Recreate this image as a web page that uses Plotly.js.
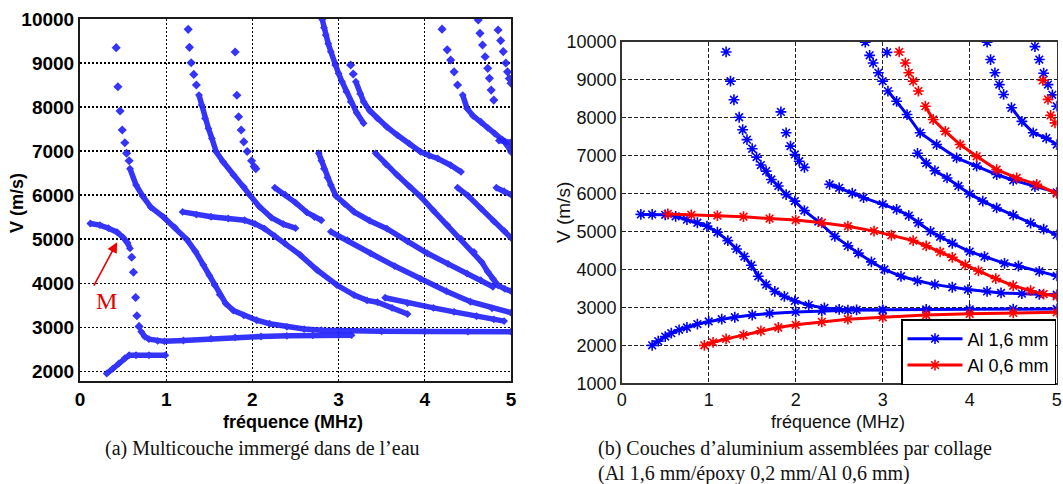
<!DOCTYPE html>
<html>
<head>
<meta charset="utf-8">
<script src="https://cdn.plot.ly/plotly-3.0.1.min.js"></script>
<style>html,body{margin:0;padding:0;background:#fff;}#chart{width:1063px;height:484px;}</style>
</head>
<body>
<div id="chart"></div>
<script>
// ---------- (a) Multicouche immergé dans de l'eau ----------
// band = dense curves, dots = sparse diamond markers
const a_A_f = [0.31,0.38,0.45,0.52,0.57,0.65,0.80,0.99];
const a_A_v = [1950,2060,2180,2300,2365,2365,2365,2365];
const a_B1_f = [0.12,0.23,0.33,0.43,0.50,0.55,0.58];
const a_B1_v = [5356,5320,5250,5160,5040,4920,4790];
const a_Bd_f = [0.60,0.62,0.645,0.66,0.685];
const a_Bd_v = [4590,4250,3675,3260,3020];
const a_B2_f = [0.71,0.75,0.80,0.90,0.98,1.2,1.52,1.8,2.1,2.4,2.7,3.0,3.15];
const a_B2_v = [2900,2790,2730,2690,2680,2700,2740,2770,2790,2805,2815,2820,2820];
const a_C1_f = [0.42,0.44,0.465,0.49,0.52,0.54,0.57];
const a_C1_v = [9350,8460,7910,7480,7190,6950,6780];
const a_C2_f = [0.58,0.65,0.73,0.82,0.97,1.1,1.24,1.34,1.43,1.5,1.56,1.62,1.69,1.78,1.9,2.05,2.2,2.4,2.6,2.8,3.0,3.5,4.0,4.5,5.0];
const a_C2_v = [6600,6230,5970,5730,5500,5270,4990,4720,4420,4180,3960,3740,3540,3380,3270,3160,3080,3010,2960,2935,2920,2910,2905,2900,2900];
const a_D1_f = [1.255,1.27,1.29,1.32,1.35];
const a_D1_v = [9765,9356,9008,8742,8500];
const a_D2_f = [1.38,1.41,1.45,1.49,1.53,1.58,1.66,1.78,1.90,1.97,2.08,2.22,2.36,2.5];
const a_D2_v = [8273,8045,7742,7515,7288,6985,6757,6455,6189,6000,5740,5490,5340,5250];
const a_E_f = [2.26,2.38,2.5,2.63,2.72,2.8];
const a_E_v = [6170,6010,5830,5610,5500,5430];
const a_F_f = [1.19,1.35,1.52,1.72,1.91,2.03,2.14,2.26,2.38,2.55,2.75,2.98,3.18,3.33,3.45,3.62,3.80];
const a_F_v = [5620,5560,5510,5470,5430,5350,5240,5070,4900,4650,4300,3960,3730,3610,3570,3440,3300];
const a_G_f = [3.54,3.8,4.1,4.34,4.6,4.8,4.92];
const a_G_v = [3670,3550,3440,3350,3250,3180,3140];
const a_H_f = [2.91,3.1,3.37,3.65,3.95,4.25,4.53,4.78,5.0];
const a_H_v = [5170,4980,4680,4390,4100,3820,3580,3430,3330];
const a_I_f = [2.77,2.8,2.83,2.87,2.91,2.97,3.07,3.18,3.36,3.56,3.8,4.03,4.27,4.49,4.65,4.79];
const a_I_v = [6950,6780,6600,6400,6230,5980,5800,5620,5420,5240,4950,4680,4440,4220,4070,3920];
const a_J_f = [3.43,3.55,3.68,3.82,3.95,4.1,4.26,4.42,4.57,4.66,4.73,4.79,4.85,4.93,5.0];
const a_J_v = [6950,6700,6455,6200,5970,5650,5320,5010,4710,4480,4260,4100,3950,3870,3820];
const a_K_f = [4.38,4.5,4.65,4.8,4.92,5.0];
const a_K_v = [6170,5990,5700,5410,5190,5030];
const a_L_f = [4.83,4.92,5.0];
const a_L_v = [6170,6090,6010];
const a_M1_f = [3.14,3.17];
const a_M1_v = [8955,8750];
const a_M2_f = [3.2,3.25,3.29,3.36,3.45,3.56,3.68,3.82,3.95,4.05,4.15,4.3,4.42];
const a_M2_v = [8576,8300,8121,7920,7742,7550,7364,7170,6985,6900,6833,6680,6530];
const a_N_f = [2.81,2.83,2.85,2.88,2.91,2.96,3.0,3.04,3.09,3.14,3.21,3.29];
const a_N_v = [9990,9800,9636,9440,9258,8955,8760,8576,8350,8121,7870,7630];
const a_O1_f = [4.2,4.26,4.3,4.34,4.38];
const a_O1_v = [9770,9300,9070,8800,8500];
const a_O2_f = [4.44,4.49,4.56,4.65,4.73,4.81,4.9,4.96,5.0];
const a_O2_v = [8273,7970,7800,7667,7530,7400,7260,7120,6980];
const a_P_f = [4.86,4.93,5.0];
const a_P_v = [7240,7220,7200];
const a_Q_f = [4.62,4.64,4.67,4.70,4.73,4.75,4.77,4.80];
const a_Q_v = [9977,9674,9409,9144,8879,8652,8386,8159];
const a_R_f = [4.85,4.88,4.91,4.94,4.96,4.98,5.0];
const a_R_v = [9750,9510,9260,9000,8800,8650,8540];
const a_S_f = [1.80,1.82,1.84,1.87,1.90,1.94,1.99,2.02,2.04];
const a_S_v = [9250,8270,7780,7480,7210,6990,6780,6650,6600];

// ---------- (b) Al 1,6 mm / époxy 0,2 mm / Al 0,6 mm ----------
const b1_f = [0.35,0.42,0.5,0.57,0.66,0.75,0.87,1.0,1.15,1.3,1.5,1.7,2.0,2.3,2.6,3.0,3.5,4.0,4.5,5.0];
const b1_v = [2000,2110,2230,2320,2410,2470,2560,2630,2690,2740,2800,2840,2880,2910,2925,2935,2945,2950,2955,2960];
const b2_f = [0.22,0.35,0.5,0.62,0.75,0.87,0.98,1.1,1.22,1.32,1.41,1.49,1.57,1.66,1.76,1.87,1.99,2.15,2.33,2.5,2.7,3.0];
const b2_v = [5450,5450,5440,5400,5310,5230,5140,4980,4760,4540,4340,4110,3820,3600,3420,3290,3170,3060,2985,2950,2935,2930];
const b3s_f = [1.2,1.25,1.29,1.35,1.39,1.44,1.5,1.55];
const b3s_v = [9730,8960,8470,8010,7680,7420,7180,6960];
const b3d_f = [1.6,1.66,1.72,1.8,1.89,1.99,2.1,2.26,2.45,2.6,2.72,2.87,3.02,3.21,3.4,3.6,3.8,3.98,4.2,4.36,4.6,4.8,5.0];
const b3d_v = [6750,6590,6370,6200,5970,5800,5550,5260,4870,4620,4430,4200,4000,3820,3700,3600,3530,3470,3420,3380,3360,3345,3334];
const b4_f = [1.83,1.89,1.94,1.99,2.04,2.1];
const b4_v = [8150,7600,7250,7030,6850,6690];
const b5_f = [2.39,2.5,2.65,2.78,3.0,3.16,3.3,3.41,3.55,3.66,3.8,4.0,4.17,4.4,4.56,4.8,5.0];
const b5_v = [6240,6150,6010,5890,5720,5580,5420,5230,5000,4860,4690,4470,4340,4160,4090,3950,3830];
const b6_f = [3.4,3.5,3.6,3.74,3.87,4.0,4.15,4.31,4.5,4.7,4.85,5.0];
const b6_v = [7060,6800,6600,6410,6200,5990,5800,5620,5430,5220,5060,4910];
const b7s_f = [2.8,2.85,2.89,2.95,3.0];
const b7s_v = [9990,9640,9440,9180,8960];
const b7d_f = [3.06,3.16,3.28,3.43,3.62,3.85,4.08,4.31,4.5,4.75,5.0];
const b7d_v = [8700,8430,8080,7600,7290,6940,6720,6500,6350,6180,6030];
const b8_f = [3.05];
const b8_v = [9720];
const b9s_f = [4.2,4.24,4.29,4.34,4.39];
const b9s_v = [9990,9530,9180,8870,8610];
const b9d_f = [4.48,4.6,4.73,4.88,5.0];
const b9d_v = [8260,7900,7600,7460,7290];
const b10_f = [4.75,4.8,4.85,4.9,4.95,5.0];
const b10_v = [9870,9530,9170,8870,8600,8300];
const r1_f = [0.95,1.05,1.2,1.4,1.6,1.8,2.0,2.3,2.6,3.0,3.5,4.0,4.5,5.0];
const r1_v = [2000,2080,2170,2270,2380,2470,2540,2620,2690,2740,2800,2830,2855,2870];
const r2_f = [0.53,0.8,1.1,1.4,1.7,2.0,2.3,2.6,2.9,3.1,3.35,3.5,3.66,3.8,3.95,4.1,4.3,4.5,4.7,4.85,5.0];
const r2_v = [5460,5440,5420,5390,5340,5300,5230,5140,5010,4900,4760,4620,4460,4320,4120,3960,3760,3570,3440,3350,3290];
const r3s_f = [3.19,3.26,3.3,3.35,3.41];
const r3s_v = [9730,9440,9180,8960,8700];
const r3d_f = [3.49,3.58,3.72,3.89,4.08,4.31,4.54,4.77,5.0];
const r3d_v = [8300,7950,7640,7290,6980,6630,6410,6240,6000];
const r4_f = [4.84,4.9,4.93,4.98];
const r4_v = [8980,8480,8060,7860];

const xTicks = [0,1,2,3,4,5];
const yTicksA = [2000,3000,4000,5000,6000,7000,8000,9000,10000];
const yTicksB = [1000,2000,3000,4000,5000,6000,7000,8000,9000,10000];
const legendNames = ['Al 1,6 mm','Al 0,6 mm'];

const BLUE_A = 'rgb(35,35,250)';
const BLUE = 'rgb(0,0,255)';
const RED = 'rgb(255,0,0)';

const traces = [];
function aBand(f, v){
  traces.push({type:'scatter', mode:'lines+markers', x:f, y:v, xaxis:'x', yaxis:'y',
    line:{color:BLUE_A, width:5.5}, marker:{symbol:'diamond', size:6, color:BLUE_A},
    showlegend:false, hoverinfo:'skip', opacity:0.92});
}
function aDots(f, v){
  traces.push({type:'scatter', mode:'markers', x:f, y:v, xaxis:'x', yaxis:'y',
    marker:{symbol:'diamond', size:7, color:BLUE_A},
    showlegend:false, hoverinfo:'skip', opacity:0.92});
}
function bDense(f, v, c, name){
  traces.push({type:'scatter', mode:'lines+markers', x:f, y:v, xaxis:'x2', yaxis:'y2',
    name: name || '', showlegend: !!name, legendgroup: c,
    line:{color:c, width:3}, marker:{symbol:'asterisk-open', size:9, color:c, line:{color:c, width:1.6}},
    hoverinfo:'skip'});
}
function bSparse(f, v, c){
  traces.push({type:'scatter', mode:'markers', x:f, y:v, xaxis:'x2', yaxis:'y2',
    showlegend:false, legendgroup:c,
    marker:{symbol:'asterisk-open', size:9, color:c, line:{color:c, width:1.6}},
    hoverinfo:'skip'});
}

[[a_A_f,a_A_v],[a_B1_f,a_B1_v],[a_B2_f,a_B2_v],[a_C2_f,a_C2_v],[a_D2_f,a_D2_v],[a_E_f,a_E_v],
 [a_F_f,a_F_v],[a_G_f,a_G_v],[a_H_f,a_H_v],[a_I_f,a_I_v],[a_J_f,a_J_v],[a_K_f,a_K_v],[a_L_f,a_L_v],
 [a_M2_f,a_M2_v],[a_N_f,a_N_v],[a_O2_f,a_O2_v],[a_P_f,a_P_v]].forEach(p=>aBand(p[0],p[1]));
[[a_Bd_f,a_Bd_v],[a_C1_f,a_C1_v],[a_D1_f,a_D1_v],[a_M1_f,a_M1_v],[a_O1_f,a_O1_v],
 [a_Q_f,a_Q_v],[a_R_f,a_R_v],[a_S_f,a_S_v]].forEach(p=>aDots(p[0],p[1]));

bDense(b1_f,b1_v,BLUE,legendNames[0]);
bDense(r1_f,r1_v,RED,legendNames[1]);
[[b2_f,b2_v],[b3d_f,b3d_v],[b5_f,b5_v],[b6_f,b6_v],[b7d_f,b7d_v],[b9d_f,b9d_v]].forEach(p=>bDense(p[0],p[1],BLUE));
[[b3s_f,b3s_v],[b4_f,b4_v],[b7s_f,b7s_v],[b8_f,b8_v],[b9s_f,b9s_v],[b10_f,b10_v]].forEach(p=>bSparse(p[0],p[1],BLUE));
[[r2_f,r2_v],[r3d_f,r3d_v]].forEach(p=>bDense(p[0],p[1],RED));
[[r3s_f,r3s_v],[r4_f,r4_v]].forEach(p=>bSparse(p[0],p[1],RED));

const W = 1063, H = 484;
const px = v => v / W;
const py = v => 1 - v / H;
const SANS = 'Liberation Sans, Arial, sans-serif';
const SERIF = 'Liberation Serif, Times New Roman, serif';

const axA = {showgrid:true, gridcolor:'#000', griddash:'2px,2px', gridwidth:1.4, zeroline:false,
  showline:true, mirror:true, linecolor:'#1a1a1a', linewidth:2, ticks:'', tickformat:'d',
  tickfont:{family:SANS, size:19, color:'#000', weight:'bold'}};
const axB = {showgrid:true, gridcolor:'#222', griddash:'4px,2px', gridwidth:1, zeroline:false,
  showline:true, mirror:true, linecolor:'#333', linewidth:1.5, ticks:'', tickformat:'d',
  tickfont:{family:SANS, size:18, color:'#111'}};

const layout = {
  width:W, height:H, margin:{l:0,r:0,t:0,b:0},
  paper_bgcolor:'#fff', plot_bgcolor:'#fff',
  showlegend:true,
  xaxis: Object.assign({}, axA, {domain:[px(80),px(511)], range:[0,5], tickvals:xTicks, anchor:'y'}),
  yaxis: Object.assign({}, axA, {domain:[py(381),py(19)], range:[1780,10000], tickvals:yTicksA, anchor:'x'}),
  xaxis2: Object.assign({}, axB, {domain:[px(621.7),px(1056.7)], range:[0,5], tickvals:xTicks, anchor:'y2'}),
  yaxis2: Object.assign({}, axB, {domain:[py(383.3),py(41.7)], range:[1000,10000], tickvals:yTicksB, anchor:'x2'}),
  legend:{x:px(1056), xanchor:'right', y:py(385), yanchor:'bottom', bgcolor:'#fff',
    bordercolor:'#000', borderwidth:1.5, font:{family:SANS, size:18, color:'#000'},
    itemwidth:55, tracegroupgap:0},
  annotations:[
    {xref:'paper', yref:'paper', x:px(293), y:py(422), text:'fréquence (MHz)', showarrow:false,
     xanchor:'center', yanchor:'middle', font:{family:SANS, size:18, color:'#000', weight:'bold'}},
    {xref:'paper', yref:'paper', x:px(17), y:py(203), text:'V (m/s)', showarrow:false, textangle:-90,
     xanchor:'center', yanchor:'middle', font:{family:SANS, size:18, color:'#000', weight:'bold'}},
    {xref:'paper', yref:'paper', x:px(838), y:py(422), text:'fréquence (MHz)', showarrow:false,
     xanchor:'center', yanchor:'middle', font:{family:SANS, size:18, color:'#111'}},
    {xref:'paper', yref:'paper', x:px(563), y:py(213), text:'V (m/s)', showarrow:false, textangle:-90,
     xanchor:'center', yanchor:'middle', font:{family:SANS, size:19, color:'#111'}},
    {xref:'paper', yref:'paper', x:px(262), y:py(448), text:'(a) Multicouche immergé dans de l’eau', showarrow:false,
     xanchor:'center', yanchor:'middle', font:{family:SERIF, size:20, color:'#111'}},
    {xref:'paper', yref:'paper', x:px(596), y:py(448), text:'(b) Couches d’aluminium assemblées par collage', showarrow:false,
     xanchor:'left', yanchor:'middle', font:{family:SERIF, size:20, color:'#111'}},
    {xref:'paper', yref:'paper', x:px(596), y:py(473), text:'(Al 1,6 mm/époxy 0,2 mm/Al 0,6 mm)', showarrow:false,
     xanchor:'left', yanchor:'middle', font:{family:SERIF, size:20, color:'#111'}},
    {xref:'paper', yref:'paper', x:px(106), y:py(301), text:'M', showarrow:false,
     xanchor:'center', yanchor:'middle', font:{family:SERIF, size:24, color:'#e00000'}},
    {xref:'x', yref:'y', x:0.43, y:4932, ax:-24, ay:45, text:'', showarrow:true,
     arrowcolor:'#ee0000', arrowwidth:1.6, arrowhead:2, arrowsize:1.3}
  ]
};

Plotly.newPlot('chart', traces, layout, {staticPlot:true, displayModeBar:false});
</script>
</body>
</html>
